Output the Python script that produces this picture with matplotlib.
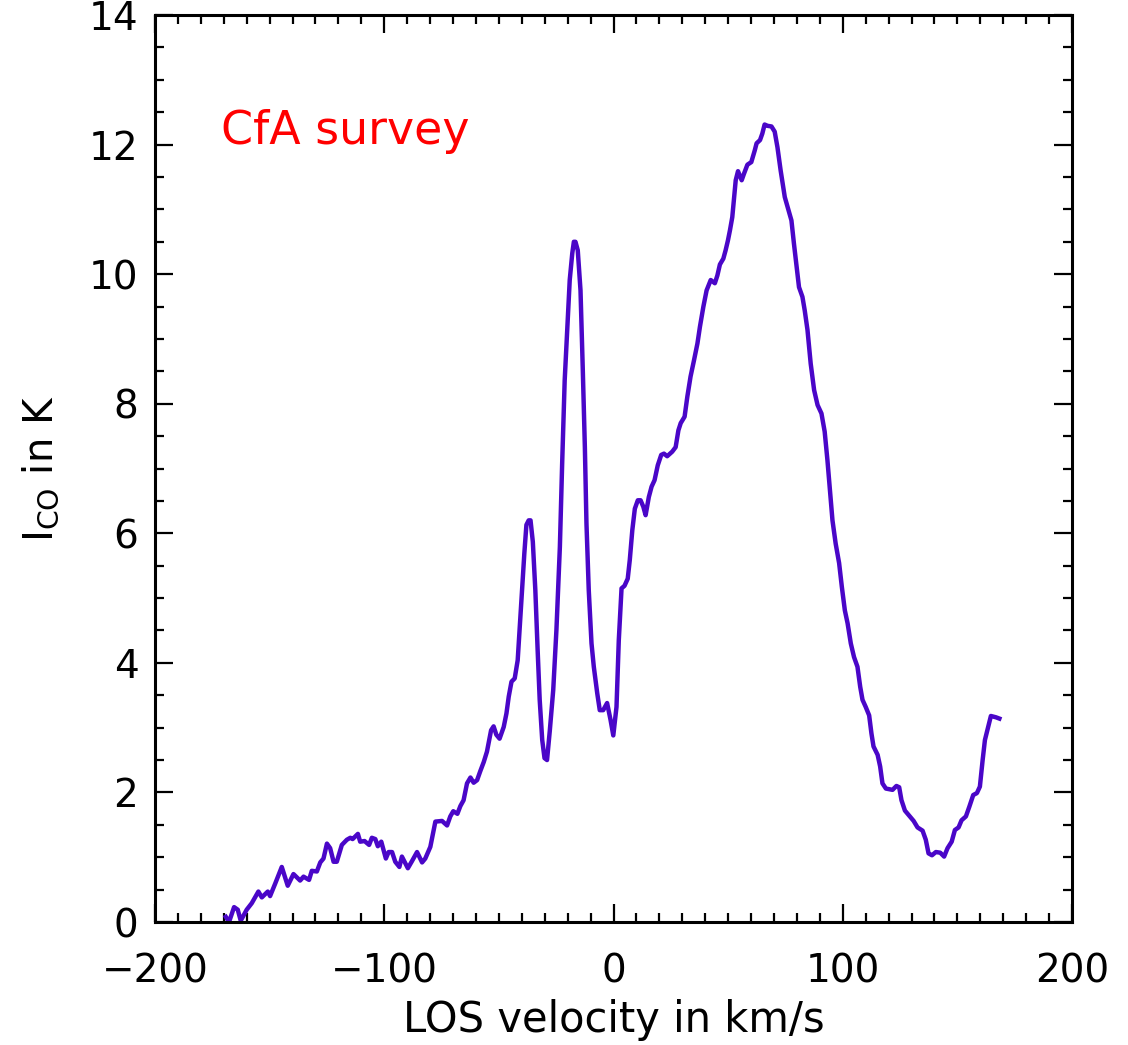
import numpy as np
import matplotlib
matplotlib.use("Agg")
import matplotlib.pyplot as plt
from matplotlib.ticker import MultipleLocator

# CO spectrum (LOS velocity in km/s, I_CO in K)
velocity = [
    -169.1, -167.7, -165.5, -163.9, -162.6, -160.0, -157.8, -154.9, -153.4, -150.8,
    -149.8, -147.6, -144.7, -142.1, -139.6, -136.7, -135.2, -132.8, -131.6, -129.4,
    -127.9, -126.5, -125.0, -123.6, -122.1, -120.7, -118.5, -116.3, -114.8, -113.8,
    -111.5, -110.5, -108.6, -106.6, -105.4, -103.9, -102.8, -101.3, -99.3, -98.1,
    -96.6, -95.2, -93.4, -92.3, -89.7, -87.9, -85.7, -83.5, -82.1, -79.9,
    -77.7, -74.8, -72.6, -71.2, -69.9, -68.1, -66.8, -65.4, -63.9, -62.4,
    -61.0, -59.5, -58.1, -56.6, -55.2, -53.4, -52.3, -51.1, -49.7, -47.9,
    -46.7, -45.7, -44.5, -43.1, -41.8, -40.9, -39.9, -38.9, -38.0, -37.0,
    -36.2, -35.2, -34.1, -33.1, -32.2, -31.1, -30.1, -29.0, -27.8, -26.3,
    -24.9, -23.4, -22.4, -21.3, -20.2, -19.1, -18.0, -17.3, -16.6, -15.6,
    -14.4, -13.4, -12.5, -11.8, -10.8, -9.6, -8.6, -7.1, -6.0, -4.5,
    -2.8, -1.3, -0.1, 1.3, 2.3, 3.5, 4.8, 6.2, 7.1, 8.2,
    9.3, 10.6, 11.8, 13.0, 14.0, 15.4, 16.6, 17.9, 19.3, 20.8,
    22.0, 23.4, 25.6, 27.1, 28.3, 29.3, 31.0, 32.2, 33.6, 35.1,
    36.6, 37.7, 39.2, 40.6, 42.4, 44.2, 45.3, 46.4, 47.9, 48.9,
    49.9, 50.8, 51.8, 52.5, 53.3, 54.3, 55.9, 56.9, 58.4, 60.1,
    61.6, 62.4, 63.9, 64.9, 65.9, 67.2, 68.9, 70.3, 71.5, 72.9,
    74.7, 75.9, 77.6, 78.7, 79.9, 80.9, 82.4, 83.4, 84.6, 86.0,
    87.5, 89.0, 90.7, 92.1, 93.3, 94.5, 95.5, 96.9, 98.4, 99.6,
    100.9, 102.1, 103.5, 104.9, 106.4, 107.6, 108.6, 110.0, 111.5, 112.5,
    113.4, 115.2, 116.3, 117.3, 118.8, 121.7, 123.4, 124.6, 125.6, 127.1,
    129.0, 130.9, 132.6, 134.8, 136.2, 137.4, 138.9, 140.6, 142.5, 144.2,
    145.7, 147.5, 148.9, 150.5, 151.8, 153.7, 155.2, 156.9, 158.5, 159.8,
    161.0, 162.0, 163.4, 164.6, 166.8, 168.3,
]
intensity = [
    0.08, 0.00, 0.23, 0.19, 0.02, 0.19, 0.29, 0.47, 0.38, 0.47,
    0.40, 0.59, 0.85, 0.56, 0.74, 0.64, 0.70, 0.65, 0.79, 0.78,
    0.92, 0.98, 1.21, 1.14, 0.93, 0.93, 1.19, 1.27, 1.30, 1.28,
    1.36, 1.24, 1.25, 1.19, 1.30, 1.28, 1.17, 1.24, 0.98, 1.08,
    1.08, 0.93, 0.85, 1.01, 0.83, 0.94, 1.08, 0.92, 0.98, 1.16,
    1.55, 1.56, 1.49, 1.63, 1.71, 1.67, 1.79, 1.88, 2.14, 2.23,
    2.15, 2.19, 2.33, 2.47, 2.63, 2.96, 3.02, 2.89, 2.83, 3.01,
    3.22, 3.48, 3.71, 3.76, 4.04, 4.56, 5.12, 5.69, 6.13, 6.20,
    6.20, 5.87, 5.12, 4.20, 3.43, 2.81, 2.53, 2.50, 2.95, 3.58,
    4.51, 5.79, 7.08, 8.36, 9.14, 9.91, 10.32, 10.50, 10.50, 10.37,
    9.75, 8.52, 7.33, 6.15, 5.12, 4.30, 3.94, 3.53, 3.27, 3.27,
    3.38, 3.12, 2.88, 3.32, 4.35, 5.15, 5.19, 5.30, 5.59, 6.05,
    6.38, 6.51, 6.51, 6.41, 6.28, 6.56, 6.72, 6.82, 7.05, 7.21,
    7.23, 7.19, 7.26, 7.33, 7.59, 7.70, 7.80, 8.11, 8.42, 8.67,
    8.93, 9.19, 9.50, 9.75, 9.91, 9.86, 9.98, 10.15, 10.24, 10.37,
    10.52, 10.68, 10.88, 11.14, 11.45, 11.59, 11.45, 11.55, 11.69, 11.73,
    11.91, 12.02, 12.07, 12.17, 12.31, 12.29, 12.28, 12.20, 11.96, 11.60,
    11.19, 11.04, 10.83, 10.47, 10.11, 9.80, 9.65, 9.44, 9.14, 8.62,
    8.21, 7.98, 7.85, 7.57, 7.13, 6.62, 6.20, 5.84, 5.54, 5.17,
    4.81, 4.61, 4.30, 4.09, 3.94, 3.63, 3.43, 3.32, 3.19, 2.91,
    2.71, 2.58, 2.40, 2.14, 2.06, 2.04, 2.10, 2.08, 1.88, 1.72,
    1.64, 1.56, 1.46, 1.41, 1.27, 1.06, 1.03, 1.08, 1.07, 1.01,
    1.14, 1.24, 1.42, 1.46, 1.57, 1.63, 1.78, 1.96, 1.99, 2.09,
    2.50, 2.81, 3.01, 3.18, 3.16, 3.14,
]

plt.rcParams['font.family'] = ['DejaVu Sans']
plt.rcParams['mathtext.default'] = 'regular'

fig = plt.figure(figsize=(11.28, 10.45), dpi=100)
ax = fig.add_axes([0.1374, 0.1177, 0.8130, 0.8679])

ax.plot(velocity, intensity, color='#4a06c8', lw=3.2)

ax.set_xlim(-200, 200)
ax.set_ylim(0, 14)
ax.xaxis.set_major_locator(MultipleLocator(100))
ax.xaxis.set_minor_locator(MultipleLocator(10))
ax.yaxis.set_major_locator(MultipleLocator(2))
ax.yaxis.set_minor_locator(MultipleLocator(0.5))

ax.tick_params(which='both', direction='in', top=True, right=True, width=1.6)
ax.tick_params(which='major', length=13)
ax.tick_params(which='minor', length=6.5)
ax.tick_params(axis='x', which='major', pad=22, labelsize=28)
ax.tick_params(axis='y', which='major', pad=12, labelsize=28)
for s in ax.spines.values():
    s.set_linewidth(2.2)

ax.set_xlabel('LOS velocity in km/s', fontsize=30, labelpad=6)
ax.set_ylabel(r'I$_{CO}$ in K', fontsize=29, labelpad=20)

ax.text(-171, 12.2, 'CfA survey', color='red', fontsize=33, ha='left', va='center')

fig.savefig('out.png', dpi=100)
